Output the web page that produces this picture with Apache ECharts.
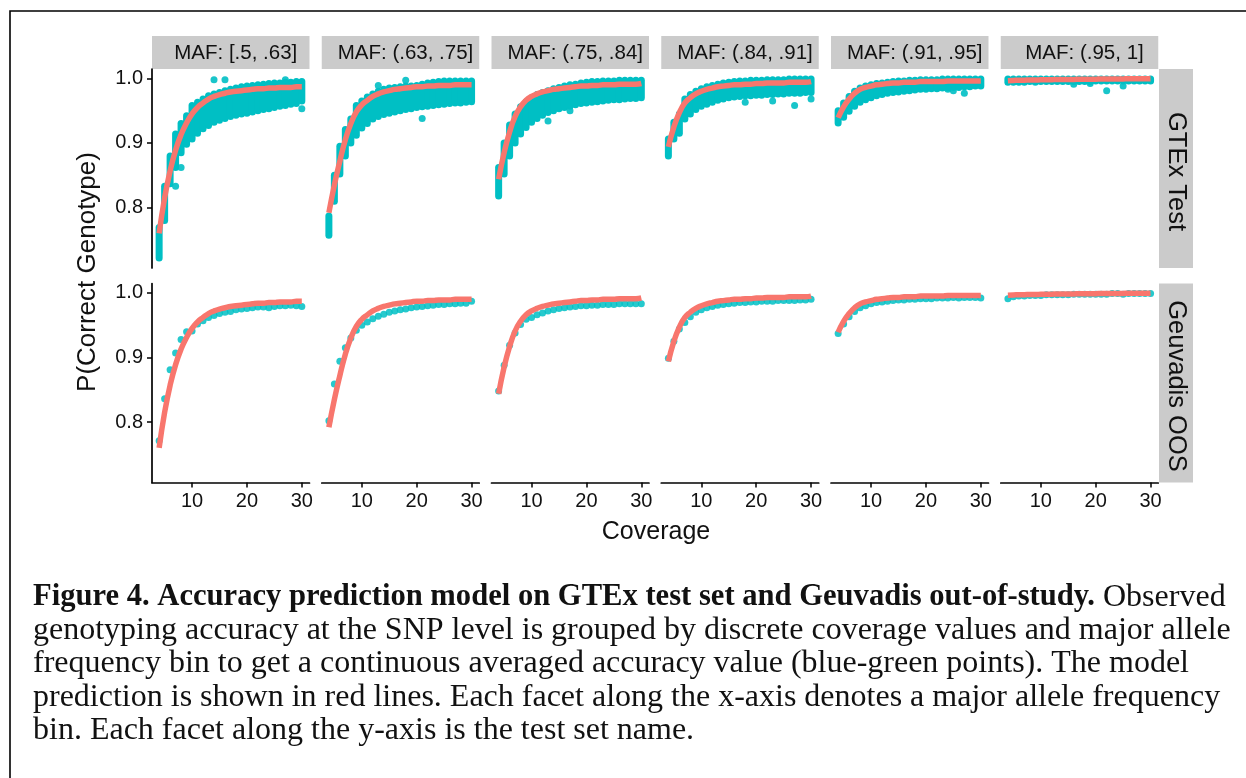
<!DOCTYPE html>
<html>
<head>
<meta charset="utf-8">
<script src="https://cdn.jsdelivr.net/npm/echarts@6/dist/echarts.min.js"></script>
<style>
  html, body { margin: 0; padding: 0; background: #fff; }
  #chart { width: 1246px; height: 778px; }
</style>
</head>
<body>
<div id="chart"></div>
<script>
// ---- data -------------------------------------------------------------
const COVERAGE = [4, 5, 6, 7, 8, 9, 10, 11, 12, 13, 14, 15, 16, 17, 18, 19, 20, 21, 22, 23, 24, 25, 26, 27, 28, 29, 30];
const MAF_BINS = ['MAF: [.5, .63]', 'MAF: (.63, .75]', 'MAF: (.75, .84]', 'MAF: (.84, .91]', 'MAF: (.91, .95]', 'MAF: (.95, 1]'];
const TEST_SETS = ['GTEx Test', 'Geuvadis OOS'];
const X_TICKS = [10, 20, 30];
const Y_TICKS = [0.8, 0.9, 1.0];
const X_TITLE = 'Coverage';
const Y_TITLE = 'P(Correct Genotype)';

// model prediction (red line) per MAF bin, one value per coverage
const MODEL_1 = [0.760, 0.815, 0.857, 0.889, 0.913, 0.931, 0.945, 0.955, 0.962, 0.968, 0.972, 0.975, 0.977, 0.979, 0.980, 0.981, 0.982, 0.983, 0.984, 0.984, 0.985, 0.985, 0.986, 0.986, 0.986, 0.987, 0.987];
const MODEL_2 = [0.792, 0.835, 0.872, 0.905, 0.930, 0.948, 0.959, 0.966, 0.972, 0.976, 0.979, 0.981, 0.983, 0.984, 0.985, 0.986, 0.987, 0.987, 0.988, 0.988, 0.989, 0.989, 0.989, 0.990, 0.990, 0.990, 0.990];
const MODEL_3 = [0.844, 0.885, 0.917, 0.941, 0.956, 0.966, 0.972, 0.976, 0.979, 0.981, 0.983, 0.984, 0.985, 0.986, 0.987, 0.988, 0.988, 0.989, 0.989, 0.990, 0.990, 0.990, 0.991, 0.991, 0.991, 0.991, 0.992];
const MODEL_4 = [0.894, 0.925, 0.947, 0.962, 0.970, 0.976, 0.980, 0.983, 0.985, 0.987, 0.988, 0.989, 0.990, 0.990, 0.991, 0.991, 0.992, 0.992, 0.993, 0.993, 0.993, 0.993, 0.994, 0.994, 0.994, 0.994, 0.995];
const MODEL_5 = [0.939, 0.956, 0.968, 0.977, 0.983, 0.986, 0.988, 0.990, 0.991, 0.992, 0.993, 0.993, 0.994, 0.994, 0.994, 0.995, 0.995, 0.995, 0.995, 0.995, 0.996, 0.996, 0.996, 0.996, 0.996, 0.996, 0.996];
const MODEL_6 = [0.9965, 0.9968, 0.9970, 0.9972, 0.9974, 0.9976, 0.9977, 0.9978, 0.9980, 0.9981, 0.9982, 0.9983, 0.9984, 0.9985, 0.9986, 0.9987, 0.9988, 0.9989, 0.9990, 0.9990, 0.9991, 0.9992, 0.9993, 0.9993, 0.9994, 0.9994, 0.9995];

// GTEx test: per-coverage spread of SNP-level averaged accuracy (lowest / highest)
const GTEX_LO_1 = [0.722, 0.780, 0.837, 0.862, 0.885, 0.898, 0.906, 0.915, 0.922, 0.927, 0.932, 0.935, 0.938, 0.941, 0.943, 0.945, 0.946, 0.948, 0.950, 0.952, 0.953, 0.955, 0.957, 0.958, 0.960, 0.961, 0.965];
const GTEX_HI_1 = [0.769, 0.833, 0.880, 0.914, 0.930, 0.942, 0.958, 0.963, 0.968, 0.973, 0.976, 0.978, 0.981, 0.983, 0.985, 0.987, 0.988, 0.989, 0.990, 0.991, 0.992, 0.993, 0.993, 0.994, 0.994, 0.995, 0.995];
const GTEX_LO_2 = [0.757, 0.810, 0.852, 0.880, 0.900, 0.912, 0.923, 0.930, 0.937, 0.941, 0.944, 0.946, 0.948, 0.950, 0.952, 0.953, 0.955, 0.956, 0.957, 0.958, 0.959, 0.960, 0.961, 0.962, 0.962, 0.963, 0.964];
const GTEX_HI_2 = [0.787, 0.850, 0.895, 0.921, 0.937, 0.958, 0.965, 0.971, 0.976, 0.980, 0.983, 0.985, 0.986, 0.987, 0.988, 0.988, 0.989, 0.991, 0.993, 0.994, 0.995, 0.996, 0.996, 0.996, 0.996, 0.996, 0.996];
const GTEX_LO_3 = [0.818, 0.852, 0.880, 0.900, 0.914, 0.924, 0.932, 0.938, 0.943, 0.947, 0.950, 0.953, 0.955, 0.957, 0.959, 0.961, 0.962, 0.963, 0.964, 0.965, 0.966, 0.967, 0.967, 0.968, 0.969, 0.969, 0.970];
const GTEX_HI_3 = [0.862, 0.900, 0.928, 0.945, 0.956, 0.964, 0.970, 0.975, 0.978, 0.981, 0.984, 0.986, 0.988, 0.990, 0.991, 0.993, 0.994, 0.995, 0.995, 0.996, 0.996, 0.996, 0.997, 0.997, 0.997, 0.997, 0.997];
const GTEX_LO_4 = [0.880, 0.906, 0.915, 0.937, 0.945, 0.952, 0.957, 0.960, 0.963, 0.966, 0.968, 0.970, 0.971, 0.972, 0.973, 0.973, 0.974, 0.974, 0.975, 0.975, 0.976, 0.976, 0.977, 0.977, 0.977, 0.978, 0.978];
const GTEX_HI_4 = [0.906, 0.932, 0.945, 0.968, 0.975, 0.980, 0.984, 0.987, 0.989, 0.991, 0.993, 0.994, 0.995, 0.996, 0.996, 0.997, 0.997, 0.997, 0.998, 0.998, 0.998, 0.998, 0.999, 0.999, 0.999, 0.999, 0.999];
const GTEX_LO_5 = [0.931, 0.940, 0.949, 0.957, 0.963, 0.967, 0.970, 0.973, 0.975, 0.977, 0.978, 0.979, 0.980, 0.981, 0.982, 0.983, 0.983, 0.984, 0.984, 0.985, 0.985, 0.986, 0.986, 0.987, 0.987, 0.988, 0.988];
const GTEX_HI_5 = [0.950, 0.962, 0.972, 0.980, 0.985, 0.988, 0.990, 0.992, 0.993, 0.994, 0.995, 0.996, 0.996, 0.997, 0.997, 0.998, 0.998, 0.998, 0.998, 0.999, 0.999, 0.999, 0.999, 0.999, 0.999, 0.999, 0.999];
const GTEX_LO_6 = [0.994, 0.994, 0.994, 0.994, 0.995, 0.995, 0.995, 0.995, 0.995, 0.995, 0.995, 0.995, 0.995, 0.995, 0.995, 0.995, 0.996, 0.996, 0.996, 0.996, 0.996, 0.996, 0.996, 0.996, 0.996, 0.996, 0.996];
const GTEX_HI_6 = [0.999, 0.999, 0.999, 0.999, 0.999, 0.999, 0.999, 0.999, 0.999, 0.999, 0.999, 0.999, 0.999, 0.999, 0.999, 0.999, 0.999, 0.999, 0.999, 0.999, 0.999, 0.999, 0.999, 0.999, 0.999, 0.999, 0.999];

// GTEx test: isolated SNP-level points lying outside the main spread [coverage, accuracy]
const GTEX_OUT_1 = [[7, 0.833], [8, 0.862], [14, 0.998], [16, 0.998], [27, 0.998], [30, 0.953]];
const GTEX_OUT_2 = [[13, 0.989], [18, 0.997], [21, 0.938]];
const GTEX_OUT_3 = [[13, 0.934], [17, 0.950]];
const GTEX_OUT_4 = [[18, 0.963], [23, 0.965], [27, 0.958], [30, 0.968]];
const GTEX_OUT_5 = [[24, 0.983], [25, 0.981], [27, 0.977]];
const GTEX_OUT_6 = [[9, 0.994], [16, 0.991], [19, 0.992], [22, 0.981], [25, 0.988]];

// Geuvadis out-of-study: averaged accuracy per coverage
const GEUV_1 = [0.771, 0.836, 0.881, 0.907, 0.928, 0.940, 0.941, 0.952, 0.957, 0.962, 0.965, 0.968, 0.970, 0.971, 0.974, 0.975, 0.976, 0.977, 0.978, 0.978, 0.977, 0.979, 0.980, 0.980, 0.981, 0.980, 0.979];
const GEUV_2 = [0.802, 0.859, 0.894, 0.915, 0.930, 0.942, 0.950, 0.955, 0.960, 0.964, 0.967, 0.970, 0.972, 0.974, 0.975, 0.977, 0.978, 0.979, 0.980, 0.981, 0.982, 0.982, 0.983, 0.983, 0.984, 0.984, 0.987];
const GEUV_3 = [0.848, 0.888, 0.919, 0.938, 0.951, 0.959, 0.962, 0.966, 0.969, 0.972, 0.974, 0.976, 0.977, 0.978, 0.979, 0.980, 0.980, 0.981, 0.981, 0.982, 0.982, 0.982, 0.983, 0.983, 0.983, 0.983, 0.983];
const GEUV_4 = [0.899, 0.925, 0.944, 0.954, 0.963, 0.970, 0.974, 0.977, 0.979, 0.981, 0.982, 0.983, 0.984, 0.985, 0.985, 0.986, 0.986, 0.987, 0.987, 0.987, 0.988, 0.988, 0.988, 0.988, 0.989, 0.989, 0.990];
const GEUV_5 = [0.937, 0.952, 0.963, 0.971, 0.977, 0.980, 0.983, 0.985, 0.986, 0.987, 0.988, 0.989, 0.989, 0.990, 0.990, 0.991, 0.991, 0.991, 0.992, 0.992, 0.992, 0.993, 0.992, 0.993, 0.993, 0.993, 0.992];
const GEUV_6 = [0.991, 0.994, 0.995, 0.995, 0.996, 0.996, 0.996, 0.997, 0.997, 0.997, 0.997, 0.997, 0.998, 0.998, 0.998, 0.998, 0.998, 0.998, 0.998, 0.999, 0.999, 0.998, 0.999, 0.999, 0.999, 0.999, 0.999];

const CAPTION_BOLD = 'Figure 4. Accuracy prediction model on GTEx test set and Geuvadis out-of-study.';
const CAPTION_LINES = [
  ' Observed',
  'genotyping accuracy at the SNP level is grouped by discrete coverage values and major allele',
  'frequency bin to get a continuous averaged accuracy value (blue-green points). The model',
  'prediction is shown in red lines. Each facet along the x-axis denotes a major allele frequency',
  'bin. Each facet along the y-axis is the test set name.'
];

// ---- layout -------------------------------------------------------------
const TEAL = '#00BFC4';
const RED = '#F8766D';
const SANS = '"Liberation Sans", Arial, sans-serif';
const SERIF = '"Liberation Serif", serif';
const X_RANGE = [2.7, 31.4];
const Y_RANGE = [0.7065, 1.0145];
const COL_LEFT = [152, 321.75, 491.5, 661.25, 831, 1000.75];
const PANEL_W = 157.5;
const ROW_TOP = [69, 283.5];
const PANEL_H = 199;
const STRIP_TOP = 36;
const STRIP_H = 33;
const STRIP_RIGHT_X = 1159;
const STRIP_RIGHT_W = 34;

const models = [MODEL_1, MODEL_2, MODEL_3, MODEL_4, MODEL_5, MODEL_6];
const gtexLo = [GTEX_LO_1, GTEX_LO_2, GTEX_LO_3, GTEX_LO_4, GTEX_LO_5, GTEX_LO_6];
const gtexHi = [GTEX_HI_1, GTEX_HI_2, GTEX_HI_3, GTEX_HI_4, GTEX_HI_5, GTEX_HI_6];
const gtexOut = [GTEX_OUT_1, GTEX_OUT_2, GTEX_OUT_3, GTEX_OUT_4, GTEX_OUT_5, GTEX_OUT_6];
const geuv = [GEUV_1, GEUV_2, GEUV_3, GEUV_4, GEUV_5, GEUV_6];

const grids = [], xAxes = [], yAxes = [], series = [], graphics = [];

// one column of overlapping GTEx points: a round-capped stroke from lowest to highest value
function bandItem(params, api) {
  const a = api.coord([api.value(0), api.value(1)]);
  const b = api.coord([api.value(0), api.value(2)]);
  return {
    type: 'line',
    shape: { x1: a[0], y1: a[1], x2: b[0], y2: b[1] },
    style: { stroke: TEAL, lineWidth: 7, lineCap: 'round' }
  };
}

for (let r = 0; r < 2; r++) {
  for (let c = 0; c < 6; c++) {
    const gi = r * 6 + c;
    grids.push({ left: COL_LEFT[c], top: ROW_TOP[r], width: PANEL_W, height: PANEL_H, containLabel: false });
    const bottomRow = r === 1;
    xAxes.push({
      type: 'value', gridIndex: gi, min: X_RANGE[0], max: X_RANGE[1],
      axisLine: { show: bottomRow, onZero: false, lineStyle: { color: '#000', width: 1.7 } },
      axisTick: { show: bottomRow, customValues: X_TICKS, length: 5, lineStyle: { color: '#000', width: 1.5 } },
      axisLabel: { show: bottomRow, customValues: X_TICKS, margin: 9, color: '#111', fontFamily: SANS, fontSize: 20 },
      splitLine: { show: false }
    });
    const firstCol = c === 0;
    yAxes.push({
      type: 'value', gridIndex: gi, min: Y_RANGE[0], max: Y_RANGE[1],
      axisLine: { show: firstCol, onZero: false, lineStyle: { color: '#000', width: 1.7 } },
      axisTick: { show: firstCol, customValues: Y_TICKS, length: 5, lineStyle: { color: '#000', width: 1.5 } },
      axisLabel: { show: firstCol, customValues: Y_TICKS, margin: 9, color: '#111', fontFamily: SANS, fontSize: 20,
                   formatter: v => v.toFixed(1) },
      splitLine: { show: false }
    });

    if (!bottomRow) {
      series.push({
        type: 'custom', xAxisIndex: gi, yAxisIndex: gi, z: 1, silent: true,
        renderItem: bandItem, encode: { x: 0, y: [1, 2] },
        data: COVERAGE.map((cv, k) => [cv, gtexLo[c][k], gtexHi[c][k]])
      });
      series.push({
        type: 'scatter', xAxisIndex: gi, yAxisIndex: gi, z: 1, silent: true,
        symbolSize: 7, itemStyle: { color: TEAL, opacity: 0.9 },
        data: gtexOut[c]
      });
    } else {
      series.push({
        type: 'scatter', xAxisIndex: gi, yAxisIndex: gi, z: 1, silent: true,
        symbolSize: 7, itemStyle: { color: TEAL, opacity: 0.85 },
        data: COVERAGE.map((cv, k) => [cv, geuv[c][k]])
      });
    }
    series.push({
      type: 'line', xAxisIndex: gi, yAxisIndex: gi, z: 3, silent: true,
      showSymbol: false, smooth: 0.5,
      lineStyle: { color: RED, width: 5.5, cap: 'butt', join: 'round' },
      data: COVERAGE.map((cv, k) => [cv, models[c][k]])
    });
  }
}

// frame
graphics.push({
  type: 'polyline', silent: true,
  shape: { points: [[10, 778], [10, 11], [1246, 11]] },
  style: { stroke: '#000', lineWidth: 1.6, fill: null }
});

// facet strips
MAF_BINS.forEach((lab, c) => {
  graphics.push({ type: 'rect', silent: true,
    shape: { x: COL_LEFT[c], y: STRIP_TOP, width: PANEL_W, height: STRIP_H },
    style: { fill: '#CBCBCB' } });
  graphics.push({ type: 'text', silent: true,
    x: COL_LEFT[c] + PANEL_W / 2 + 5, y: STRIP_TOP + STRIP_H / 2 + 1,
    style: { text: lab, fill: '#111', font: '20.5px ' + SANS, align: 'center', verticalAlign: 'middle' } });
});
TEST_SETS.forEach((lab, r) => {
  graphics.push({ type: 'rect', silent: true,
    shape: { x: STRIP_RIGHT_X, y: ROW_TOP[r], width: STRIP_RIGHT_W, height: PANEL_H },
    style: { fill: '#CBCBCB' } });
  graphics.push({ type: 'text', silent: true,
    x: STRIP_RIGHT_X + STRIP_RIGHT_W / 2, y: ROW_TOP[r] + PANEL_H / 2 + 3, rotation: -Math.PI / 2,
    style: { text: lab, fill: '#111', font: '25.5px ' + SANS, align: 'center', verticalAlign: 'middle' } });
});

// axis titles
graphics.push({ type: 'text', silent: true, x: 656, y: 532,
  style: { text: X_TITLE, fill: '#111', font: '25px ' + SANS, align: 'center', verticalAlign: 'middle' } });
graphics.push({ type: 'text', silent: true, x: 88, y: 272, rotation: Math.PI / 2,
  style: { text: Y_TITLE, fill: '#111', font: '26px ' + SANS, align: 'center', verticalAlign: 'middle' } });

// caption: sizes chosen so the text block spans its column width
const measure = document.createElement('canvas').getContext('2d');
measure.font = '100px ' + SERIF;
const capSize = Math.round(100 * 1196 / measure.measureText(CAPTION_LINES[1]).width * 10) / 10;
measure.font = 'bold 100px ' + SERIF;
const boldSize = Math.round(100 * 1062 / measure.measureText(CAPTION_BOLD).width * 10) / 10;
const CAP_LEFT = 33;
const CAP_BASE = [606.7, 640, 673.3, 706.7, 740];
graphics.push({ type: 'text', silent: true, x: CAP_LEFT, y: CAP_BASE[0] - 0.3 * capSize,
  style: {
    text: '{b|' + CAPTION_BOLD + '}{r|' + CAPTION_LINES[0] + '}',
    fill: '#111', font: capSize + 'px ' + SERIF, align: 'left', verticalAlign: 'middle',
    rich: {
      b: { fontWeight: 'bold', fontFamily: SERIF, fontSize: boldSize, fill: '#111' },
      r: { fontFamily: SERIF, fontSize: capSize, fill: '#111' }
    }
  } });
for (let i = 1; i < CAPTION_LINES.length; i++) {
  graphics.push({ type: 'text', silent: true, x: CAP_LEFT, y: CAP_BASE[i] - 0.3 * capSize,
    style: { text: CAPTION_LINES[i], fill: '#111', font: capSize + 'px ' + SERIF, align: 'left', verticalAlign: 'middle' } });
}

const chart = echarts.init(document.getElementById('chart'), null, { renderer: 'canvas', width: 1246, height: 778 });
chart.setOption({
  animation: false,
  backgroundColor: '#fff',
  grid: grids,
  xAxis: xAxes,
  yAxis: yAxes,
  series: series,
  graphic: { elements: graphics }
});
</script>
</body>
</html>
